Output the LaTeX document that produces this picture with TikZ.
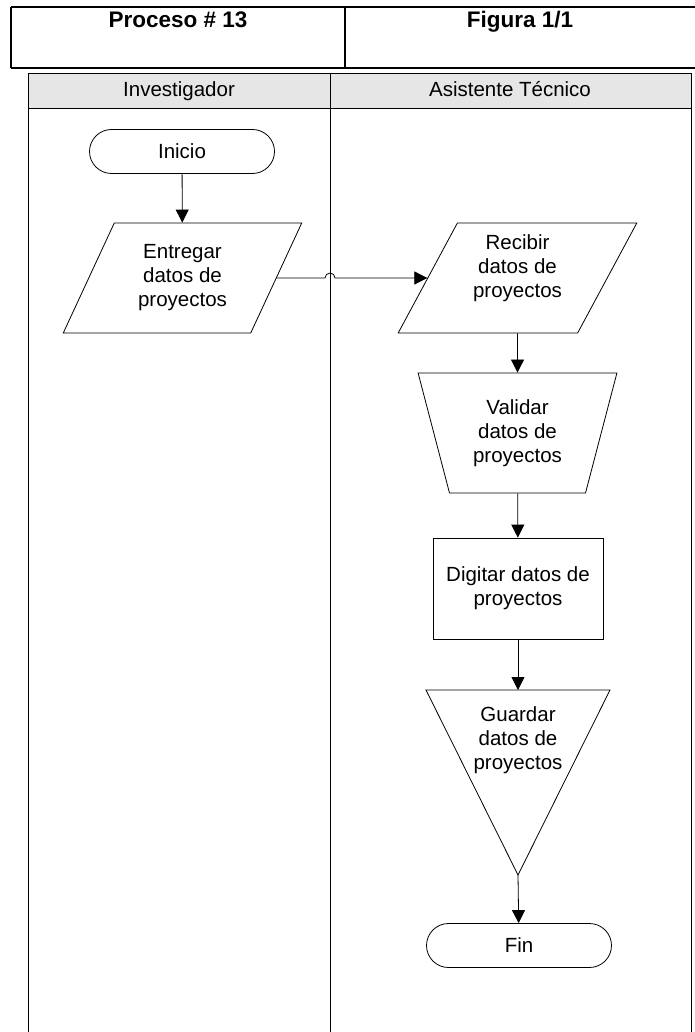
\documentclass[tikz,border=0pt]{standalone}
\usepackage{fontspec}
\setmainfont{Liberation Sans}
\usetikzlibrary{arrows.meta,shapes.geometric,shapes.misc}

\begin{document}
\begin{tikzpicture}[x=1pt, y=-1pt,
    every node/.style={font=\fontsize{20.5}{24}\selectfont, align=center, inner sep=0pt},
    flowline/.style={-{Triangle[length=13pt,width=13pt]}, line width=0.8pt},
    terminal/.style={draw, rounded rectangle, line width=0.8pt, minimum width=185pt, minimum height=44pt},
    iobox/.style={draw, trapezium, trapezium left angle=63.4, trapezium right angle=116.6,
        trapezium stretches=true, line width=0.8pt, minimum width=239pt, minimum height=110pt},
    manualbox/.style={draw, trapezium, trapezium left angle=107, trapezium right angle=107,
        trapezium stretches=true, line width=0.8pt, minimum width=199pt, minimum height=120pt},
    processbox/.style={draw, rectangle, line width=0.8pt, minimum width=170pt, minimum height=101pt}]
    \def\laneTop{73}
    \def\laneBottom{1033}

    \definecolor{laneFill}{HTML}{E6E6E6}
    \definecolor{borderColour}{HTML}{000000}

    \useasboundingbox (0,0) rectangle (695,1032);

    % Draw title table
    \draw[borderColour, line width=2pt] (11,7) -- (700,7);
    \draw[borderColour, line width=2pt] (11,68) -- (700,68);
    \draw[borderColour, line width=2pt] (11,7) -- (11,68);
    \draw[borderColour, line width=2pt] (345,7) -- (345,68);
    \node[anchor=base, font=\fontsize{22.5}{26}\selectfont\bfseries] (proceso) at (178,28) {Proceso \# 13};
    \node[anchor=base, font=\fontsize{22.5}{26}\selectfont\bfseries] (figura) at (520,28) {Figura 1/1};

    % Draw swimlanes
    \filldraw[fill=laneFill, draw=borderColour, line width=0.8pt] (28,\laneTop) rectangle (691,108);
    \draw[line width=0.8pt] (28,\laneTop) -- (28,\laneBottom);
    \draw[line width=0.8pt] (330,\laneTop) -- (330,\laneBottom);
    \draw[line width=0.8pt] (691,\laneTop) -- (691,\laneBottom);
    \node[anchor=base] (investigador) at (179,97) {Investigador};
    \node[anchor=base] (asistente) at (510,97) {Asistente Técnico};

    % Lane Investigador
    \node[terminal] (inicio) at (182,151.5) {Inicio};
    \node[iobox] (entregar) at (182.5,278) {Entregar\\datos de\\proyectos};

    % Lane Asistente Tecnico
    \node[iobox] (recibir) at (517.5,278) {Recibir\\datos de\\proyectos\\[0.5pt]\mbox{}};
    \node[manualbox] (validar) at (517.5,433) {Validar\\datos de\\proyectos};
    \node[processbox] (digitar) at (518,588.5) {Digitar datos de\\proyectos};

    % Guardar: inverted triangle
    \coordinate (G1) at (426,690);
    \coordinate (G2) at (610,690);
    \coordinate (G3) at (518,875);
    \coordinate (guardarTop) at (518,690);
    \draw[line width=0.8pt] (G1) -- (G2) -- (G3) -- cycle;
    \node (guardar) at (518,740) {Guardar\\datos de\\proyectos};

    \node[terminal] (fin) at (519,945.5) {Fin};

    % Connectors
    \coordinate (hop) at (330,278);
    \draw[flowline] (inicio) -- (entregar);
    \draw[flowline] (entregar.east) -- ([xshift=-5pt]hop)
        arc[start angle=180, end angle=360, radius=5] -- (recibir.west);
    \draw[flowline] (recibir) -- (validar);
    \draw[flowline] (validar) -- (digitar);
    \draw[flowline] (digitar) -- (guardarTop);
    \draw[flowline] (G3) -- (fin);

\end{tikzpicture}
\end{document}
